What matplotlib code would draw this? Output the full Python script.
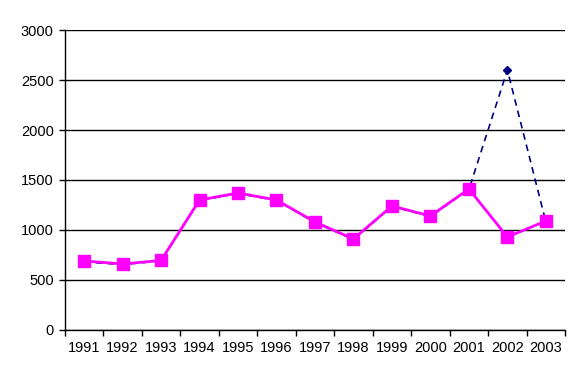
import numpy as np
import matplotlib
matplotlib.use('Agg')
import matplotlib.pyplot as plt

years = ['1991', '1992', '1993', '1994', '1995', '1996', '1997',
         '1998', '1999', '2000', '2001', '2002', '2003']
actual = [690, 660, 695, 1300, 1370, 1300, 1080, 910, 1240, 1140, 1410, 930, 1090]
forecast = [680, 655, 690, 1295, 1365, 1295, 1075, 905, 1235, 1135, 1405, 2600, 1080]

plt.rcParams['font.family'] = ['Liberation Sans', 'DejaVu Sans']

fig = plt.figure(figsize=(5.79, 3.85), dpi=100)
ax = fig.add_axes([0.112, 0.143, 0.864, 0.779])

x = np.arange(len(years))
ax.plot(x, forecast, color='#000080', linestyle=(0, (4, 3)), linewidth=1.2,
        marker='D', markersize=4, zorder=2)
ax.plot(x, actual, color='#FF00FF', linewidth=2, marker='s', markersize=8,
        zorder=3)

ax.set_xlim(-0.5, len(years) - 0.5)
ax.set_ylim(0, 3000)
ax.set_yticks(np.arange(0, 3001, 500))
ax.set_xticks(x)
ax.set_xticklabels(years)
ax.set_xticks(np.arange(-0.5, len(years), 1), minor=True)
ax.tick_params(axis='x', which='major', length=0, pad=8, labelsize=10.5)
ax.tick_params(axis='x', which='minor', length=4, direction='out', width=1)
ax.tick_params(axis='y', length=4, direction='out', width=1, labelsize=10.5, pad=4)

ax.grid(axis='y', color='black', linewidth=1)
ax.set_axisbelow(True)
for s in ['top', 'right']:
    ax.spines[s].set_visible(False)
for s in ['left', 'bottom']:
    ax.spines[s].set_linewidth(1)

fig.savefig('out.png', dpi=100)
